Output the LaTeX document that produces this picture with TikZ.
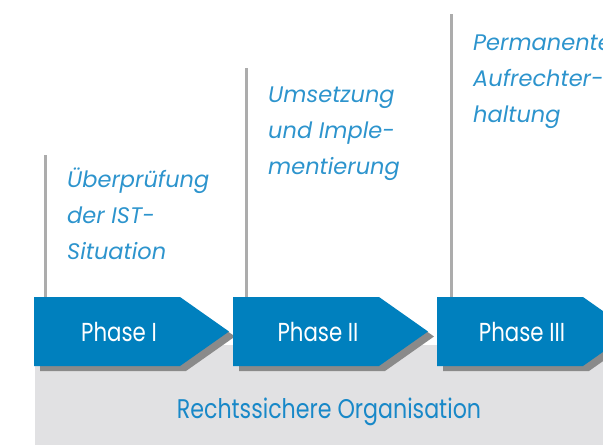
\documentclass[tikz,border=0pt]{standalone}
\usepackage{fontspec}
\setmainfont{Poppins}
\newfontfamily\phasefont[FakeStretch=0.82]{Poppins}
\usepackage{tikz}
\usetikzlibrary{positioning}
\definecolor{phaseblue}{RGB}{0,128,190}
\definecolor{noteblue}{RGB}{45,148,205}
\definecolor{orgblue}{RGB}{24,136,200}
\definecolor{bandgray}{RGB}{225,225,227}
\definecolor{shadowgray}{RGB}{138,138,138}
\definecolor{stemgray}{RGB}{172,172,172}
\newcommand{\flatw}{146}
\newcommand{\tipw}{49}
\newcommand{\halfh}{34.5}

\begin{document}
\begin{tikzpicture}[x=1pt,y=-1pt]
    %\draw[help lines] (0,0) grid (603,445);
        \useasboundingbox (0,0) rectangle (603,445);
        \tikzset{PhaseText/.style = {text=white, inner sep=0pt, anchor=base, font=\phasefont\fontsize{26}{30}\selectfont}}
        \tikzset{NoteText/.style = {text=noteblue, inner sep=0pt, anchor=base west, align=left, font=\fontsize{22.5}{36}\selectfont\itshape}}
        \tikzset{Stem/.style = {stemgray, line width=3pt}}
        \fill[bandgray] (35,345) rectangle (603,445);
        \node[text=orgblue, inner sep=0pt, anchor=base, font=\phasefont\fontsize{27}{30}\selectfont] (org) at (329,418) {Rechtssichere Organisation};

        \foreach \x/\n/\s/\t in {34/I/45/155, 233/II/246/68, 437/III/451/14}{
            \fill[shadowgray] (\x+6,302) -- ++(\flatw,0) -- ++(\tipw,\halfh) -- ++(-\tipw,\halfh) -- ++(-\flatw,0) -- cycle;
            \fill[phaseblue] (\x,297) -- ++(\flatw,0) -- ++(\tipw,\halfh) -- ++(-\tipw,\halfh) -- ++(-\flatw,0) -- cycle;
            \node[PhaseText] (phase\n) at (\x+85,341) {Phase \n};
            \coordinate (top\n) at (\s,\t);
            \coordinate (foot\n) at (\s,297);
            \draw[Stem] (top\n) -- (foot\n);
        }

        \node[NoteText] (noteI) at (67,259) {Überprüfung\\der IST-\\Situation};
        \node[NoteText] (noteII) at (268,174) {Umsetzung\\und Imple-\\mentierung};
        \node[NoteText] (noteIII) at (473,122) {Permanente\\Aufrechter-\\haltung};

    \end{tikzpicture}
\end{document}
